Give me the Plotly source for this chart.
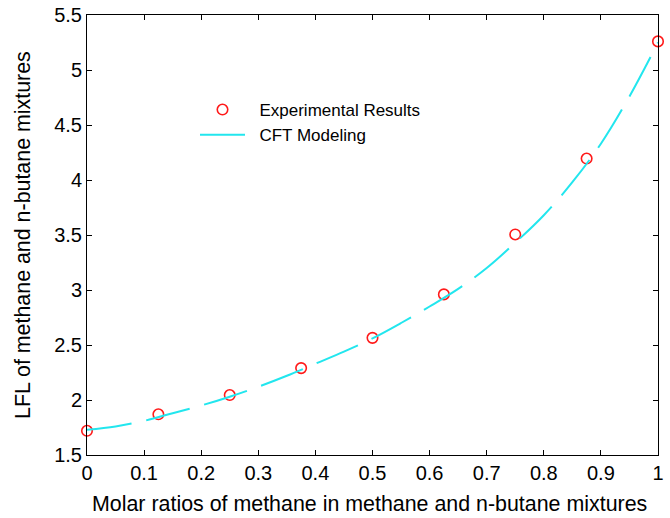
import plotly.graph_objects as go

# Experimental data
exp_x = [0, 0.125, 0.25, 0.375, 0.5, 0.625, 0.75, 0.875, 1.0]
exp_y = [1.72, 1.87, 2.045, 2.29, 2.565, 2.96, 3.505, 4.195, 5.26]

# CFT modeling curve
cft_x = [0, 0.05, 0.1, 0.15, 0.2, 0.25, 0.3, 0.35, 0.4, 0.45, 0.5,
         0.55, 0.6, 0.65, 0.7, 0.75, 0.8, 0.85, 0.9, 0.95, 1.0]
cft_y = [1.73, 1.76, 1.81, 1.88, 1.95, 2.03, 2.12, 2.22, 2.33, 2.44, 2.56,
         2.70, 2.85, 3.01, 3.20, 3.43, 3.68, 3.98, 4.33, 4.76, 5.25]

x_ticks = [0, 0.1, 0.2, 0.3, 0.4, 0.5, 0.6, 0.7, 0.8, 0.9, 1]
y_ticks = [1.5, 2, 2.5, 3, 3.5, 4, 4.5, 5, 5.5]

x_title = "Molar ratios of methane in methane and n-butane mixtures"
y_title = "LFL of methane and n-butane mixtures"

font = "Liberation Sans, Arial, Helvetica, sans-serif"

fig = go.Figure()
fig.add_trace(go.Scatter(
    x=exp_x, y=exp_y, mode="markers", name="\u00a0\u00a0Experimental Results",
    marker=dict(symbol="circle-open", size=10.5, color="#ff1a1a",
                line=dict(width=1.6, color="#ff1a1a")),
    cliponaxis=False,
))
fig.add_trace(go.Scatter(
    x=cft_x, y=cft_y, mode="lines", name="\u00a0\u00a0CFT Modeling",
    line=dict(color="#22e6ee", width=2, dash="45px,15px", shape="spline"),
))

axis_common = dict(
    showgrid=False, zeroline=False, showline=True, linecolor="black",
    linewidth=1, mirror="ticks", ticks="inside", ticklen=5,
    tickcolor="black", tickwidth=1, automargin=False,
    tickfont=dict(family=font, size=20, color="black"),
)

fig.update_layout(
    width=670, height=518,
    margin=dict(l=87, r=12, t=15, b=63),
    paper_bgcolor="white", plot_bgcolor="white",
    font=dict(family=font, color="black"),
    showlegend=True,
    legend=dict(x=(195 - 87) / 571, y=(455 - 92) / 440, xanchor="left", yanchor="top",
                bgcolor="rgba(0,0,0,0)", borderwidth=0, itemwidth=45,
                font=dict(family=font, size=17, color="black")),
    xaxis=dict(range=[0, 1], tickvals=x_ticks,
               ticktext=[f"{v:g}" for v in x_ticks], **axis_common),
    yaxis=dict(range=[1.5, 5.5], tickvals=y_ticks,
               ticktext=[f"{v:g}" for v in y_ticks], **axis_common),
    annotations=[
        dict(text=x_title, xref="paper", yref="paper", x=0.494, y=(455 - 490) / 440,
             xanchor="center", yanchor="top", showarrow=False,
             font=dict(family=font, size=21.4, color="black")),
        dict(text=y_title, xref="paper", yref="paper", x=(23 - 87) / 571, y=0.5,
             xanchor="center", yanchor="middle", textangle=-90, showarrow=False,
             font=dict(family=font, size=21.4, color="black")),
    ],
)

fig.write_html("out.html", config={"displayModeBar": False},
               post_script="document.body.style.margin='0';document.body.style.overflow='hidden';")
